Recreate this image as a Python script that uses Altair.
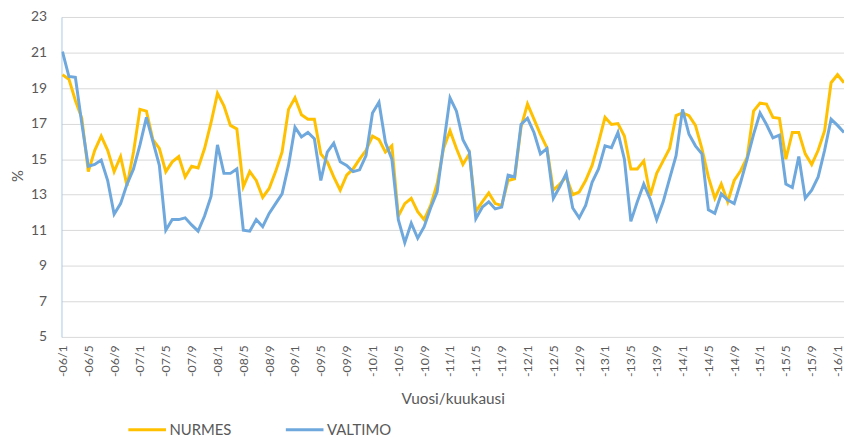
import altair as alt
import pandas as pd

# Monthly values, 2006/1 .. 2016/2 (index 0 = 2006/1)
nurmes = [19.75, 19.5, 18.3, 17.3, 14.3, 15.5, 16.3, 15.5, 14.3, 15.15, 13.5, 15.4,
          17.8, 17.7, 16.1, 15.6, 14.3, 14.85, 15.15, 14.0, 14.6, 14.5, 15.6, 17.05,
          18.7, 18.0, 16.9, 16.7, 13.45, 14.3, 13.8, 12.85, 13.35, 14.3, 15.4, 17.8,
          18.45, 17.5, 17.25, 17.25, 15.3, 14.85, 14.0, 13.25, 14.1, 14.45, 15.0, 15.5,
          16.3, 16.1, 15.4, 15.75, 11.8, 12.5, 12.8, 12.05, 11.6, 12.4, 13.6, 15.6,
          16.6, 15.6, 14.7, 15.3, 12.05, 12.6, 13.1, 12.5, 12.4, 13.8, 13.9, 16.8,
          18.1, 17.25, 16.4, 15.65, 13.25, 13.6, 14.0, 13.0, 13.15, 13.8, 14.65, 15.95,
          17.35, 16.95, 17.0, 16.3, 14.45, 14.45, 14.9, 12.95, 14.2, 14.9, 15.6, 17.45,
          17.6, 17.45, 16.9, 15.6, 14.0, 12.8, 13.6, 12.6, 13.8, 14.35, 15.1, 17.7,
          18.15, 18.1, 17.35, 17.3, 15.0, 16.5, 16.5, 15.3, 14.7, 15.5, 16.6, 19.3,
          19.75, 19.3]
valtimo = [21.05, 19.65, 19.6, 17.0, 14.6, 14.7, 14.95, 13.8, 11.9, 12.5, 13.6, 14.45,
           15.8, 17.35, 16.0, 14.65, 11.0, 11.6, 11.6, 11.7, 11.3, 10.95, 11.8, 12.9,
           15.8, 14.2, 14.2, 14.45, 11.0, 10.95, 11.6, 11.2, 11.95, 12.5, 13.05, 14.65,
           16.8, 16.25, 16.5, 16.15, 13.8, 15.4, 15.9, 14.85, 14.65, 14.3, 14.4, 15.2,
           17.6, 18.2, 15.95, 15.0, 11.6, 10.3, 11.4, 10.55, 11.2, 12.25, 13.15, 15.8,
           18.45, 17.7, 16.1, 15.4, 11.65, 12.3, 12.6, 12.2, 12.3, 14.1, 14.0, 16.95,
           17.3, 16.5, 15.3, 15.6, 12.8, 13.45, 14.2, 12.25, 11.7, 12.4, 13.7, 14.45,
           15.75, 15.65, 16.5, 15.0, 11.5, 12.6, 13.6, 12.75, 11.6, 12.6, 13.9, 15.2,
           17.8, 16.4, 15.75, 15.3, 12.15, 11.95, 13.05, 12.7, 12.5, 13.7, 15.0, 16.4,
           17.6, 16.95, 16.2, 16.35, 13.6, 13.4, 15.15, 12.8, 13.25, 14.0, 15.5, 17.25,
           16.9, 16.5]
series_names = ["NURMES", "VALTIMO"]
series_colors = ["#FFC000", "#6FA8DC"]
tick_months = list(range(0, 121, 4))
y_ticks = list(range(5, 24, 2))

rows = []
for i, v in enumerate(nurmes):
    rows.append({"m": i, "value": v, "series": "NURMES"})
for i, v in enumerate(valtimo):
    rows.append({"m": i, "value": v, "series": "VALTIMO"})
df = pd.DataFrame(rows)

FONT = "Lato"
GREY = "#595959"

label_expr = ("'-' + (floor(datum.value/12)+6 < 10 ? '0' : '') + (floor(datum.value/12)+6)"
              " + '/' + (datum.value % 12 + 1)")

chart = alt.Chart(df).mark_line(strokeWidth=3, clip=True).encode(
    x=alt.X("m:Q",
            scale=alt.Scale(domain=[-0.15, 121], nice=False, zero=False),
            axis=alt.Axis(values=tick_months, labelExpr=label_expr, labelAngle=270,
                          grid=False, domain=False, ticks=False, labelPadding=8,
                          labelFont=FONT, labelFontSize=12.5, labelColor=GREY,
                          labelOverlap=False, labelFlush=False,
                          title="Vuosi/kuukausi", titleFont=FONT, titleFontSize=15.5,
                          titleFontWeight="normal", titleColor=GREY,
                          titleBaseline="middle", titleY=62)),
    y=alt.Y("value:Q",
            scale=alt.Scale(domain=[5, 23], nice=False, zero=False),
            axis=alt.Axis(values=y_ticks, grid=True, gridColor="#D9D9D9", gridWidth=1,
                          domain=True, domainColor="#A9C9E6", domainWidth=1,
                          ticks=False, labelPadding=15, labelFont=FONT, labelFontSize=14,
                          labelColor=GREY,
                          title="%", titleFont=FONT, titleFontSize=15,
                          titleFontWeight="normal", titleColor=GREY,
                          titleX=-44, titleY=160, titleAngle=270,
                          titleAlign="center", titleBaseline="middle")),
    color=alt.Color("series:N",
                    scale=alt.Scale(domain=series_names, range=series_colors),
                    legend=alt.Legend(title=None, orient="none", direction="horizontal",
                                      legendX=66, legendY=396,
                                      symbolType="stroke", symbolSize=1444,
                                      symbolStrokeWidth=3, labelOffset=2,
                                      columnPadding=48, padding=0,
                                      labelFont=FONT, labelFontSize=15,
                                      labelColor=GREY)),
).properties(
    width=790,
    height=323,
    autosize=alt.AutoSizeParams(type="none"),
    padding={"left": 54, "top": 7, "right": 0, "bottom": 99},
).configure_view(stroke=None)

chart.save("out.html", embed_options={"renderer": "svg", "actions": False})
